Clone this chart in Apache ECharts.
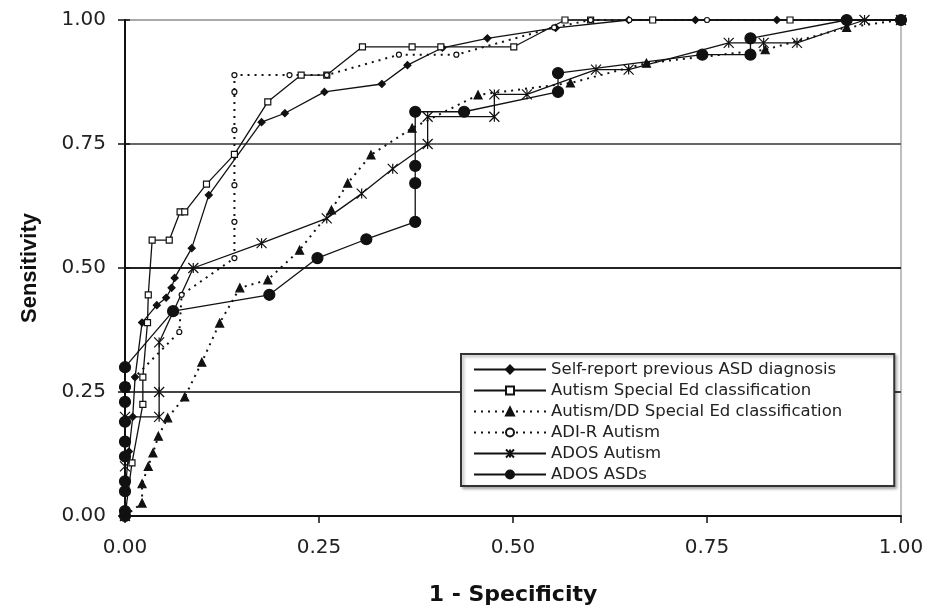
<!DOCTYPE html>
<html>
<head>
<meta charset="utf-8">
<title>ROC curves</title>
<script src="https://cdn.jsdelivr.net/npm/echarts@6/dist/echarts.min.js"></script>
<style>
  html, body { margin: 0; padding: 0; background: #fff; }
  #roc { width: 927px; height: 611px; }
</style>
</head>
<body>
<div id="roc"></div>
<script>
// tick labels
var tickLabels = ['0.00', '0.25', '0.50', '0.75', '1.00'];

// series names (legend order)
var names = [
  'Self-report previous ASD diagnosis',
  'Autism Special Ed classification',
  'Autism/DD Special Ed classification',
  'ADI-R Autism',
  'ADOS Autism',
  'ADOS ASDs'
];

// x = 1 - specificity, y = sensitivity
var selfX = [0, 0, 0.005, 0.01, 0.013, 0.022, 0.041, 0.053, 0.06, 0.064, 0.086, 0.108, 0.176, 0.206, 0.257, 0.331, 0.364, 0.409, 0.467, 0.555, 0.649, 0.735, 0.84, 1];
var selfY = [0, 0.05, 0.13, 0.2, 0.28, 0.39, 0.425, 0.44, 0.46, 0.48, 0.54, 0.647, 0.794, 0.812, 0.855, 0.871, 0.909, 0.944, 0.963, 0.984, 1, 1, 1, 1];

var sedX = [0, 0.009, 0.023, 0.023, 0.029, 0.03, 0.035, 0.057, 0.071, 0.077, 0.105, 0.141, 0.184, 0.227, 0.26, 0.306, 0.37, 0.407, 0.501, 0.567, 0.6, 0.68, 0.857, 1];
var sedY = [0, 0.107, 0.225, 0.28, 0.39, 0.446, 0.556, 0.556, 0.613, 0.613, 0.669, 0.729, 0.835, 0.889, 0.889, 0.946, 0.946, 0.946, 0.946, 1, 1, 1, 1, 1];

var ddX = [0, 0.022, 0.022, 0.03, 0.036, 0.043, 0.055, 0.077, 0.099, 0.122, 0.148, 0.184, 0.225, 0.266, 0.287, 0.317, 0.37, 0.455, 0.574, 0.672, 0.825, 0.93, 1];
var ddY = [0, 0.026, 0.065, 0.1, 0.127, 0.161, 0.198, 0.24, 0.31, 0.389, 0.46, 0.476, 0.536, 0.617, 0.671, 0.728, 0.782, 0.849, 0.873, 0.913, 0.94, 0.985, 1];

var adirX = [0, 0, 0.07, 0.073, 0.141, 0.141, 0.141, 0.141, 0.141, 0.141, 0.212, 0.26, 0.353, 0.427, 0.553, 0.6, 0.65, 0.75, 1];
var adirY = [0, 0.26, 0.371, 0.446, 0.52, 0.593, 0.667, 0.778, 0.855, 0.889, 0.889, 0.889, 0.93, 0.93, 0.985, 1, 1, 1, 1];

var adosX = [0, 0, 0, 0.044, 0.044, 0.044, 0.088, 0.176, 0.26, 0.305, 0.345, 0.39, 0.39, 0.476, 0.476, 0.518, 0.607, 0.649, 0.778, 0.823, 0.866, 0.953, 1];
var adosY = [0, 0.1, 0.2, 0.2, 0.25, 0.35, 0.5, 0.55, 0.6, 0.65, 0.7, 0.75, 0.805, 0.805, 0.85, 0.85, 0.9, 0.9, 0.954, 0.954, 0.954, 1, 1];

var asdX = [0, 0, 0, 0, 0, 0, 0, 0, 0, 0, 0.062, 0.186, 0.248, 0.311, 0.374, 0.374, 0.374, 0.374, 0.437, 0.558, 0.558, 0.744, 0.806, 0.806, 0.93, 1];
var asdY = [0, 0.01, 0.05, 0.07, 0.12, 0.15, 0.19, 0.23, 0.26, 0.3, 0.413, 0.446, 0.52, 0.558, 0.593, 0.671, 0.706, 0.815, 0.815, 0.855, 0.893, 0.93, 0.93, 0.963, 1, 1];

function pairs(xs, ys) {
  return xs.map(function (x, i) { return [x, ys[i]]; });
}

var starPath = 'path://M0,0L10,10M10,0L0,10M5,0L5,10';
var dotted = [2, 5];
var wide = 'DejaVu Sans, Verdana, sans-serif';

function mk(name, xs, ys, symbol, size, fill, dashed) {
  return {
    name: name,
    type: 'line',
    data: pairs(xs, ys),
    symbol: symbol,
    symbolSize: size,
    clip: false,
    z: 3,
    lineStyle: { color: '#111', width: dashed ? 2 : 1.3, type: dashed ? dotted : 'solid' },
    itemStyle: { color: fill, borderColor: '#111', borderWidth: 1.2 },
    emphasis: { disabled: true },
    animation: false
  };
}

var option = {
  backgroundColor: '#fff',
  textStyle: { fontFamily: wide },
  grid: {
    left: 125, right: 26, top: 20, bottom: 95,
    show: true, borderColor: '#aaa', borderWidth: 1.5
  },
  legend: {
    orient: 'vertical',
    left: 461,
    top: 354,
    padding: [7, 52, 3, 12],
    itemWidth: 72,
    itemHeight: 10,
    itemGap: 4,
    backgroundColor: '#fff',
    borderColor: '#333',
    borderWidth: 2,
    borderRadius: 0,
    shadowColor: 'rgba(0,0,0,0.3)',
    shadowBlur: 3,
    shadowOffsetX: 2,
    shadowOffsetY: 2,
    textStyle: { fontSize: 16.5, lineHeight: 16, color: '#222', fontFamily: wide },
    data: names
  },
  xAxis: {
    type: 'value',
    min: 0, max: 1, interval: 0.25,
    name: '1 - Specificity',
    nameLocation: 'middle',
    nameGap: 68,
    nameTextStyle: { fontSize: 22, fontWeight: 'bold', color: '#111', fontFamily: wide },
    axisLine: { show: true, lineStyle: { color: '#111', width: 2 } },
    axisTick: { show: true, length: 7, lineStyle: { color: '#111', width: 1.5 } },
    axisLabel: {
      fontSize: 20, color: '#222', margin: 22,
      formatter: function (v) { return tickLabels[Math.round(v * 4)]; }
    },
    splitLine: { show: false }
  },
  yAxis: [{
    type: 'value',
    min: 0, max: 1, interval: 0.25,
    name: 'Sensitivity',
    nameLocation: 'middle',
    nameGap: 84,
    nameTextStyle: { fontSize: 22, fontWeight: 'bold', color: '#111', fontFamily: 'Liberation Sans, Arial, sans-serif' },
    axisLine: { show: true, lineStyle: { color: '#111', width: 2 } },
    axisTick: { show: true, length: 7, lineStyle: { color: '#111', width: 1.5 } },
    axisLabel: {
      fontSize: 20, color: '#222', margin: 19,
      formatter: function (v) { return tickLabels[Math.round(v * 4)]; }
    },
    splitLine: {
      show: true,
      lineStyle: { color: ['#111', '#444', '#222', '#666', '#aaa'], width: 2 }
    }
  }, {
    // inner half of the crossing ticks on the left axis
    type: 'value',
    position: 'left',
    min: 0, max: 1, interval: 0.25,
    axisLine: { show: false },
    axisTick: { show: true, inside: true, length: 5, lineStyle: { color: '#111', width: 1.5 } },
    axisLabel: { show: false },
    splitLine: { show: false }
  }],
  series: [
    mk(names[0], selfX, selfY, 'diamond', 7, '#111', false),
    mk(names[1], sedX, sedY, 'rect', 6, '#fff', false),
    mk(names[2], ddX, ddY, 'triangle', 8, '#111', true),
    mk(names[3], adirX, adirY, 'circle', 5, '#fff', true),
    mk(names[4], adosX, adosY, starPath, 10, 'none', false),
    mk(names[5], asdX, asdY, 'circle', 11, '#111', false)
  ]
};

echarts.init(document.getElementById('roc')).setOption(option);
</script>
</body>
</html>
